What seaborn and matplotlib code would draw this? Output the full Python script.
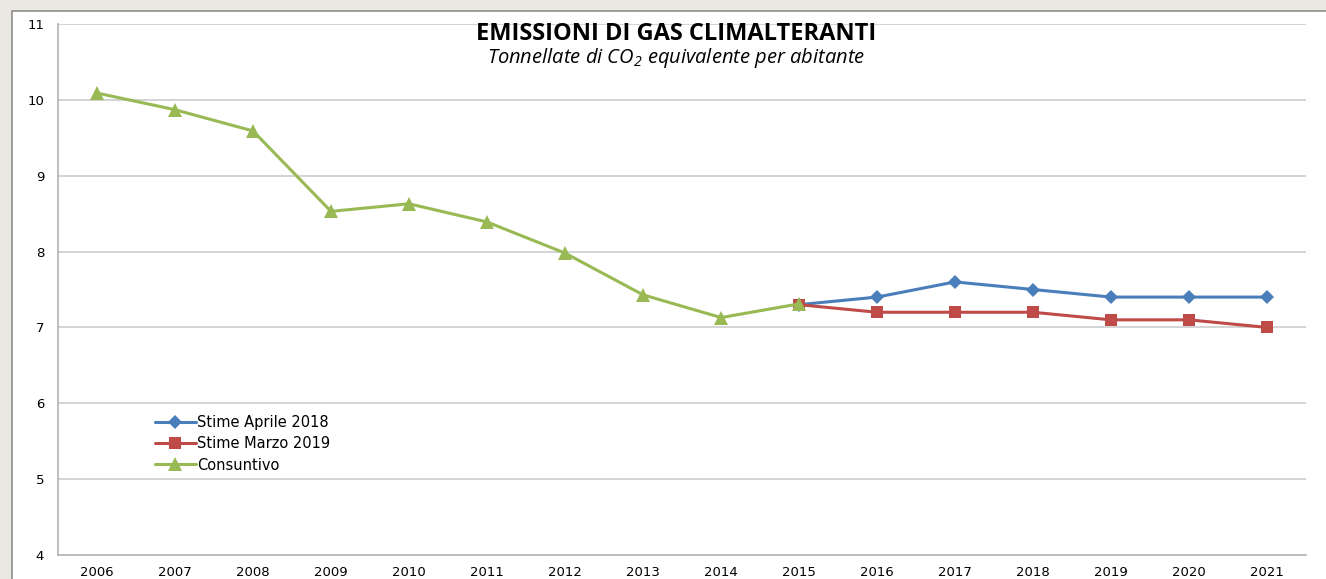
import matplotlib
matplotlib.use("Agg")
import matplotlib.pyplot as plt
from matplotlib.patches import Rectangle
import pandas as pd
import seaborn as sns

# dati
anni_consuntivo = [2006, 2007, 2008, 2009, 2010, 2011, 2012, 2013, 2014, 2015]
consuntivo = [10.09, 9.87, 9.59, 8.53, 8.63, 8.39, 7.98, 7.43, 7.13, 7.31]

anni_stime = [2015, 2016, 2017, 2018, 2019, 2020, 2021]
stime_aprile_2018 = [7.3, 7.4, 7.6, 7.5, 7.4, 7.4, 7.4]
stime_marzo_2019 = [7.3, 7.2, 7.2, 7.2, 7.1, 7.1, 7.0]

anni_ticks = list(range(2006, 2022))

sns.set_style("white")
plt.rcParams['font.family'] = ['DejaVu Sans']
plt.rcParams['mathtext.fontset'] = 'custom'
plt.rcParams['mathtext.it'] = 'Open Sans:italic'
plt.rcParams['mathtext.rm'] = 'Open Sans:italic'

fig = plt.figure(figsize=(13.26, 5.79), dpi=100, facecolor='#ebe7e3')

# riquadro bianco del grafico
fig.patches.append(Rectangle((12 / 1326, -0.01), 1.0, 1 - 11 / 579 + 0.01,
                             transform=fig.transFigure, facecolor='white',
                             edgecolor='#8c8c8c', linewidth=1.2, zorder=-10))

ax = fig.add_axes([58 / 1326, 24 / 579, 1248 / 1326, 531 / 579])
ax.set_facecolor('none')

df_apr = pd.DataFrame({'anno': anni_stime, 'valore': stime_aprile_2018})
df_mar = pd.DataFrame({'anno': anni_stime, 'valore': stime_marzo_2019})
df_cons = pd.DataFrame({'anno': anni_consuntivo, 'valore': consuntivo})

sns.lineplot(data=df_apr, x='anno', y='valore', ax=ax, color='#4a7ebb',
             marker='D', markersize=7, markeredgewidth=0, linewidth=2.2,
             label='Stime Aprile 2018', zorder=3)
sns.lineplot(data=df_mar, x='anno', y='valore', ax=ax, color='#be4b48',
             marker='s', markersize=9, markeredgewidth=0, linewidth=2.2,
             label='Stime Marzo 2019', zorder=4)
sns.lineplot(data=df_cons, x='anno', y='valore', ax=ax, color='#98b954',
             marker='^', markersize=10, markeredgewidth=0, linewidth=2.2,
             label='Consuntivo', zorder=5)

ax.set_xlim(2005.5, 2021.5)
ax.set_ylim(4, 11)
ax.set_xlabel('')
ax.set_ylabel('')

ax.set_xticks(anni_ticks)
ax.set_xticklabels([str(a) for a in anni_ticks])
ax.set_xticks([a + 0.5 for a in [2005] + anni_ticks], minor=True)
ax.tick_params(axis='x', which='major', length=0, pad=8, labelsize=9.5, labelcolor='black')
ax.tick_params(axis='x', which='minor', length=5, width=1, color='#a6a6a6', direction='out')
ax.set_yticks(range(4, 12))
ax.tick_params(axis='y', length=6, width=1, color='#a6a6a6', direction='out',
               pad=4, labelsize=9.5, labelcolor='black')

ax.yaxis.grid(True, color='#cccccc', linewidth=1.2)
ax.xaxis.grid(False)
for lato in ['top', 'right']:
    ax.spines[lato].set_visible(False)
for lato in ['left', 'bottom']:
    ax.spines[lato].set_color('#b4b4b4')
    ax.spines[lato].set_linewidth(1.2)

leg = ax.legend(loc='upper left', bbox_to_anchor=(0.073, 0.274), frameon=False,
                fontsize=10.5, handlelength=2.8, handletextpad=0.1,
                labelspacing=0.42, borderaxespad=0)
for t in leg.get_texts():
    t.set_color('black')

fig.text(676 / 1326, 1 - 34 / 579, 'EMISSIONI DI GAS CLIMALTERANTI',
         family='Open Sans', weight='bold', fontsize=17, ha='center',
         va='center', color='black')
fig.text(676 / 1326, 1 - 58 / 579,
         r'Tonnellate di CO$_2$ equivalente per abitante',
         family='Open Sans', style='italic', fontsize=14.5, ha='center',
         va='center', color='black')

fig.savefig('out.png', dpi=100, facecolor=fig.get_facecolor())
